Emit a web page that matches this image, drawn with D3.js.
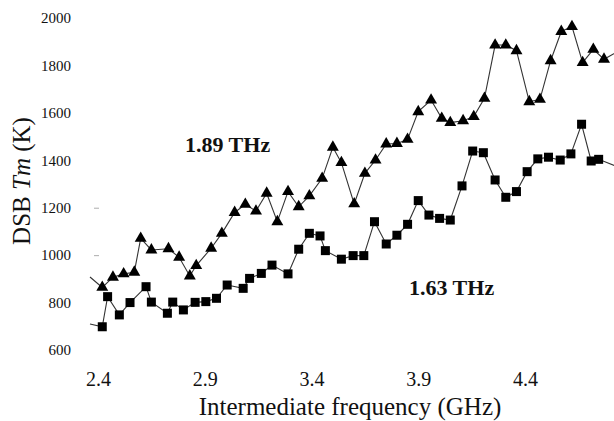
<!DOCTYPE html>
<html>
<head>
<meta charset="utf-8">
<script src="https://cdn.jsdelivr.net/npm/d3@7"></script>
<style>
  html, body { margin: 0; padding: 0; background: #fff; }
  svg { display: block; }
  text { font-family: "Liberation Serif", "DejaVu Serif", serif; fill: #111; }
</style>
</head>
<body>
<svg id="chart" width="614" height="421"></svg>
<script>
// 1.89 THz (triangles)
const freq189 = [2.42, 2.47, 2.52, 2.57, 2.60, 2.65, 2.73, 2.78, 2.83, 2.86, 2.93, 2.98, 3.04, 3.09, 3.14, 3.19,
                 3.24, 3.29, 3.34, 3.39, 3.45, 3.50, 3.54, 3.60, 3.65, 3.70, 3.75, 3.80, 3.85, 3.90, 3.96, 4.01,
                 4.05, 4.11, 4.16, 4.21, 4.26, 4.31, 4.36, 4.42, 4.47, 4.52, 4.57, 4.62, 4.67, 4.72, 4.77];
const tm189 = [864, 907, 921, 928, 1071, 1022, 1027, 991, 912, 956, 1029, 1092, 1180, 1214, 1186, 1261,
               1141, 1268, 1204, 1250, 1324, 1455, 1390, 1216, 1345, 1401, 1469, 1471, 1488, 1605, 1654, 1577,
               1559, 1567, 1584, 1661, 1886, 1886, 1862, 1647, 1657, 1820, 1943, 1964, 1812, 1868, 1826];

// 1.63 THz (squares)
const freq163 = [2.42, 2.445, 2.50, 2.55, 2.625, 2.65, 2.725, 2.75, 2.80, 2.855, 2.905, 2.955, 3.005, 3.08, 3.11, 3.165,
                 3.215, 3.29, 3.34, 3.39, 3.44, 3.465, 3.54, 3.595, 3.645, 3.695, 3.75, 3.80, 3.85, 3.90, 3.95, 4.00,
                 4.05, 4.105, 4.155, 4.205, 4.26, 4.31, 4.36, 4.41, 4.46, 4.51, 4.565, 4.615, 4.665, 4.71, 4.745];
const tm163 = [698, 825, 748, 800, 867, 802, 755, 802, 769, 801, 804, 818, 874, 860, 902, 923,
               958, 921, 1025, 1092, 1081, 1019, 983, 998, 998, 1141, 1047, 1084, 1130, 1230, 1169, 1155,
               1148, 1292, 1439, 1432, 1317, 1244, 1268, 1352, 1406, 1413, 1401, 1427, 1552, 1397, 1404];

// line ends running past the first/last markers (cut by the frame)
const ends189 = [[2.3625, 908], [4.83, 1856]];
const ends163 = [[2.3625, 710], [4.83, 1374]];

const xTicks = [2.4, 2.9, 3.4, 3.9, 4.4];
const yTicks = [600, 800, 1000, 1200, 1400, 1600, 1800, 2000];
const faintTicks = [1000, 1200];

const svg = d3.select("#chart");

const x = d3.scaleLinear().domain([2.4, 4.4]).range([98, 525]);
const y = d3.scaleLinear().domain([600, 2000]).range([350, 18]);

// y axis: labels only, faint dashes at a couple of ticks
const yAxis = svg.append("g")
    .attr("transform", "translate(99,0)")
    .call(d3.axisLeft(y).tickValues(yTicks).tickSize(5).tickPadding(23).tickFormat(d3.format("d")));
yAxis.select(".domain").remove();
yAxis.selectAll(".tick line")
    .attr("stroke", "#999")
    .attr("stroke-opacity", d => faintTicks.includes(d) ? 0.8 : 0);
yAxis.selectAll(".tick text")
    .style("font-family", "Liberation Serif")
    .style("font-size", "15px")
    .attr("fill", "#111");

// x axis: labels only
const xAxis = svg.append("g")
    .attr("transform", "translate(0,366)")
    .call(d3.axisBottom(x).tickValues(xTicks).tickSize(0).tickPadding(6).tickFormat(d3.format(".1f")));
xAxis.select(".domain").remove();
xAxis.selectAll(".tick text")
    .style("font-family", "Liberation Serif")
    .style("font-size", "20px")
    .attr("fill", "#111");

// axis titles
svg.append("text")
    .attr("x", 350).attr("y", 415)
    .attr("text-anchor", "middle")
    .style("font-size", "25px")
    .text("Intermediate frequency (GHz)");

const yTitle = svg.append("text")
    .attr("transform", "translate(30,181) rotate(-90)")
    .attr("text-anchor", "middle")
    .style("font-size", "25px");
yTitle.append("tspan").text("DSB ");
yTitle.append("tspan").style("font-style", "italic").text("Tm");
yTitle.append("tspan").text(" (K)");

// series
const pts189 = freq189.map((f, i) => ({ f, t: tm189[i] }));
const pts163 = freq163.map((f, i) => ({ f, t: tm163[i] }));
const toPt = p => ({ f: p[0], t: p[1] });

const line = d3.line().x(d => x(d.f)).y(d => y(d.t));

svg.append("path")
    .datum([toPt(ends189[0]), ...pts189, toPt(ends189[1])])
    .attr("d", line)
    .attr("fill", "none")
    .attr("stroke", "#333")
    .attr("stroke-width", 1.1);

svg.append("path")
    .datum([toPt(ends163[0]), ...pts163, toPt(ends163[1])])
    .attr("d", line)
    .attr("fill", "none")
    .attr("stroke", "#333")
    .attr("stroke-width", 1.1);

const tri = d3.symbol().type(d3.symbolTriangle).size(62);
svg.append("g").selectAll("path")
    .data(pts189)
    .join("path")
    .attr("d", tri)
    .attr("transform", d => `translate(${x(d.f)},${y(d.t)})`)
    .attr("fill", "#000");

const sq = 9;
svg.append("g").selectAll("rect")
    .data(pts163)
    .join("rect")
    .attr("x", d => x(d.f) - sq / 2)
    .attr("y", d => y(d.t) - sq / 2)
    .attr("width", sq)
    .attr("height", sq)
    .attr("fill", "#000");

// series labels
svg.append("text")
    .attr("x", 185).attr("y", 152)
    .style("font-size", "22px")
    .style("font-weight", "bold")
    .text("1.89 THz");

svg.append("text")
    .attr("x", 409).attr("y", 295)
    .style("font-size", "22px")
    .style("font-weight", "bold")
    .text("1.63 THz");
</script>
</body>
</html>
